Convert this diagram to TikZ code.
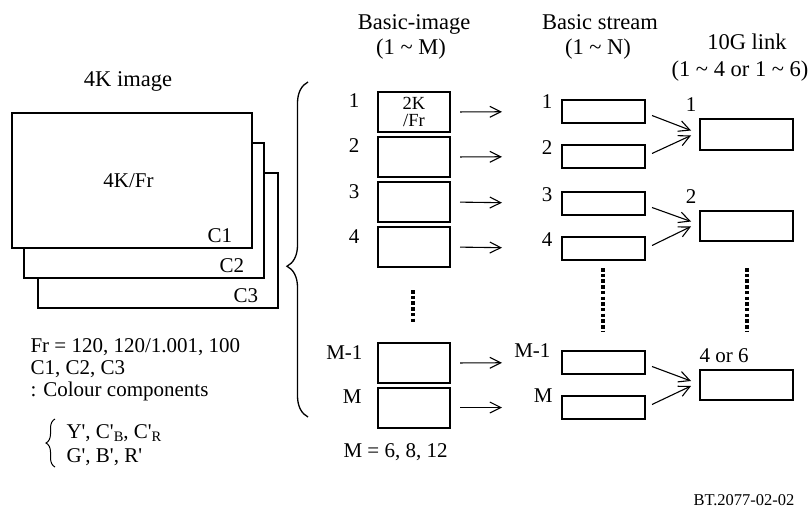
\documentclass[tikz,border=0pt]{standalone}
\usepackage{fontspec}
\setmainfont{Liberation Serif}
\usetikzlibrary{arrows.meta,decorations.pathreplacing}
\begin{document}
\begin{tikzpicture}[x=1pt,y=-1pt,font=\fontsize{21}{23}\selectfont,
  frame/.style={draw,line width=1.5pt,fill=white,minimum width=240pt,minimum height=135pt},
  bimg/.style={draw,line width=2pt,minimum width=72pt,minimum height=40pt,inner sep=0pt},
  bstr/.style={draw,line width=2pt,minimum width=83pt,minimum height=23pt,inner sep=0pt},
  lnk/.style={draw,line width=2pt,minimum width=93pt,minimum height=30pt,inner sep=0pt},
  title/.style={anchor=base,font=\fontsize{22.5}{24}\selectfont},
  arr/.style={-{Straight Barb[length=11pt,width=11pt]},line width=1.1pt},
  vdots/.style={line width=3.5pt,dash pattern=on 3.5pt off 2.2pt}]
\useasboundingbox (0,0) rectangle (808,508);
% 4K image, three colour components
\node[title] (ttl) at (128,87) {4K image};
\node[frame] (c3) at (158,240.5) {};
\node[frame] (c2) at (144,210.5) {};
\node[frame] (c1) at (132,180.5) {};
\node[anchor=base] (fk) at (128.5,187) {4K/Fr};
\node[anchor=base east] (lc1) at ([shift={(-17,-6)}]c1.south east) {C1};
\node[anchor=base east] (lc2) at ([shift={(-17,-6)}]c2.south east) {C2};
\node[anchor=base east] (lc3) at ([shift={(-17,-6)}]c3.south east) {C3};
\node[anchor=base west] (fr) at (27,352) {Fr = 120, 120/1.001, 100};
\node[anchor=base west] (cc) at (27,374) {C1, C2, C3};
\node[anchor=base west] (cdesc) at (27,396) {: Colour components};
\node[anchor=base west] (ycc) at (63,438) {Y\textquotesingle, C\textquotesingle\raisebox{-3.5pt}{\fontsize{14.5}{14.5}\selectfont B}, C\textquotesingle\raisebox{-3.5pt}{\fontsize{14.5}{14.5}\selectfont R}};
\node[anchor=base west] (gbr) at (63,462) {G\textquotesingle, B\textquotesingle, R\textquotesingle};
\draw[decorate,decoration={brace,amplitude=9pt},line width=1pt] (55,467) -- (55,419);
\draw[decorate,decoration={brace,amplitude=21pt,aspect=0.45},line width=1.3pt] (308,417) -- (308,82);
% column titles
\node[title] (tbi) at (414,30) {Basic-image};
\node[title] (tbi2) at (411,55) {(1 \textasciitilde{} M)};
\node[title] (tbs) at (600,30) {Basic stream};
\node[title] (tbs2) at (598,55) {(1 \textasciitilde{} N)};
\node[title] (tlk) at (747,50) {10G link};
\node[title] (tlk2) at (740,77) {(1 \textasciitilde{} 4 or 1 \textasciitilde{} 6)};
% basic images
\node[bimg,align=center,font=\fontsize{18.5}{17.5}\selectfont] (ib1) at (414,112) {2K\\/Fr};
\node[bimg] (ib2) at (414,157) {};
\node[bimg] (ib3) at (414,202) {};
\node[bimg] (ib4) at (414,247) {};
\node[bimg] (ibm1) at (414,363) {};
\node[bimg] (ibm) at (414,407.5) {};
\node[anchor=base east] at ([shift={(-14,17)}]ib1.north west) {1};
\node[anchor=base east] at ([shift={(-14,17)}]ib2.north west) {2};
\node[anchor=base east] at ([shift={(-14,17)}]ib3.north west) {3};
\node[anchor=base east] at ([shift={(-14,17)}]ib4.north west) {4};
\node[anchor=base east] at ([shift={(-11,17)}]ibm1.north west) {M-1};
\node[anchor=base east] at ([shift={(-12,17)}]ibm.north west) {M};
\node[anchor=base west] (mval) at (340,457) {M = 6, 8, 12};
% basic streams
\node[bstr] (bs1) at (603.5,111.5) {};
\node[bstr] (bs2) at (603.5,156.5) {};
\node[bstr] (bs3) at (603.5,203.5) {};
\node[bstr] (bs4) at (603.5,248.5) {};
\node[bstr] (bsm1) at (603.5,362.5) {};
\node[bstr] (bsm) at (603.5,407.5) {};
\node[anchor=base east] at ([shift={(-5,10)}]bs1.north west) {1};
\node[anchor=base east] at ([shift={(-5,10)}]bs2.north west) {2};
\node[anchor=base east] at ([shift={(-5,10)}]bs3.north west) {3};
\node[anchor=base east] at ([shift={(-5,10)}]bs4.north west) {4};
\node[anchor=base east] at ([shift={(-7,7)}]bsm1.north west) {M-1};
\node[anchor=base east] at ([shift={(-5,7)}]bsm.north west) {M};
% 10G links
\node[lnk] (lk1) at (746.5,134.5) {};
\node[lnk] (lk2) at (746.5,225.5) {};
\node[lnk] (lk3) at (746.5,385) {};
\node[anchor=base] at ([shift={(-8,-7)}]lk1.north west) {1};
\node[anchor=base] at ([shift={(-8,-6)}]lk2.north west) {2};
\node[anchor=base west] at ([shift={(-3,-7)}]lk3.north west) {4 or 6};
% arrows
\draw[arr,shorten <=9pt,shorten >=59pt] (ib1.east) -- (bs1.west);
\draw[arr,shorten <=9pt,shorten >=59pt] (ib2.east) -- (bs2.west);
\draw[arr,shorten <=9pt,shorten >=59pt] (ib3.east) -- (bs3.west);
\draw[arr,shorten <=9pt,shorten >=59pt] (ib4.east) -- (bs4.west);
\draw[arr,shorten <=9pt,shorten >=59pt] (ibm1.east) -- (bsm1.west);
\draw[arr,shorten <=9pt,shorten >=59pt] (ibm.east) -- (bsm.west);
\draw[arr] ([shift={(6,4)}]bs1.east) -- ([shift={(-8,-4)}]lk1.west);
\draw[arr] ([shift={(6,-3)}]bs2.east) -- ([shift={(-8,1)}]lk1.west);
\draw[arr] ([shift={(6,4)}]bs3.east) -- ([shift={(-8,-4)}]lk2.west);
\draw[arr] ([shift={(6,-3)}]bs4.east) -- ([shift={(-8,1)}]lk2.west);
\draw[arr] ([shift={(6,4)}]bsm1.east) -- ([shift={(-8,-4)}]lk3.west);
\draw[arr] ([shift={(6,-3)}]bsm.east) -- ([shift={(-8,1)}]lk3.west);
% dots
\draw[vdots] (413,290) -- (413,322);
\draw[vdots] (603,268) -- (603,332);
\draw[vdots] (747,268) -- (747,332);
\node[anchor=base east,font=\fontsize{16.5}{18}\selectfont] (ref) at (798,505) {BT.2077-02-02};
\end{tikzpicture}
\end{document}
